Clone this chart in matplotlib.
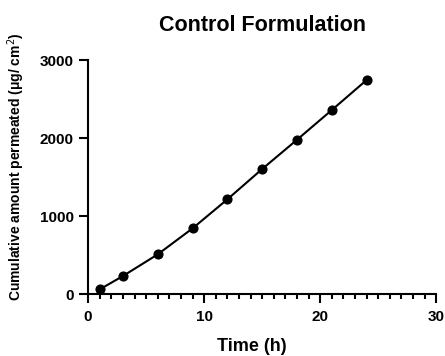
import matplotlib
matplotlib.use("Agg")
import matplotlib.pyplot as plt
from matplotlib.ticker import MultipleLocator

# data
time_h = [1, 3, 6, 9, 12, 15, 18, 21, 24]
amount = [60, 231, 509, 842, 1214, 1603, 1978, 2359, 2744]

plt.rcParams['font.family'] = ['Liberation Sans', 'DejaVu Sans']

fig = plt.figure(figsize=(4.45, 3.56), dpi=100)
ax = fig.add_axes([0.198, 0.174, 0.782, 0.657])

ax.plot(time_h, amount, color='black', lw=1.5, marker='o', ms=6.3, clip_on=False)

ax.set_xlim(0, 30)
ax.set_ylim(0, 3000)
ax.set_xticks([0, 10, 20, 30])
ax.xaxis.set_minor_locator(MultipleLocator(1))
ax.set_yticks([0, 1000, 2000, 3000])

for s in ['top', 'right']:
    ax.spines[s].set_visible(False)
for s in ['left', 'bottom']:
    ax.spines[s].set_linewidth(1.5)

ax.tick_params(which='major', length=6.5, width=1.5, labelsize=11)
ax.tick_params(axis='x', which='major', pad=5)
ax.tick_params(axis='y', which='major', pad=4)
ax.tick_params(which='minor', length=3.5, width=1.5)
for lab in ax.get_xticklabels() + ax.get_yticklabels():
    lab.set_fontweight('bold')

ax.set_title('Control Formulation', fontsize=15.5, fontweight='bold', pad=21)
ax.set_xlabel('Time (h)', fontsize=13, fontweight='bold')
ax.xaxis.set_label_coords(0.471, -0.19)
ax.set_ylabel('Cumulative amount permeated (μg/ cm$^2$)', fontsize=10,
              fontweight='bold')
ax.yaxis.set_label_coords(-0.175, 0.545)

fig.savefig('out.png', dpi=100)
